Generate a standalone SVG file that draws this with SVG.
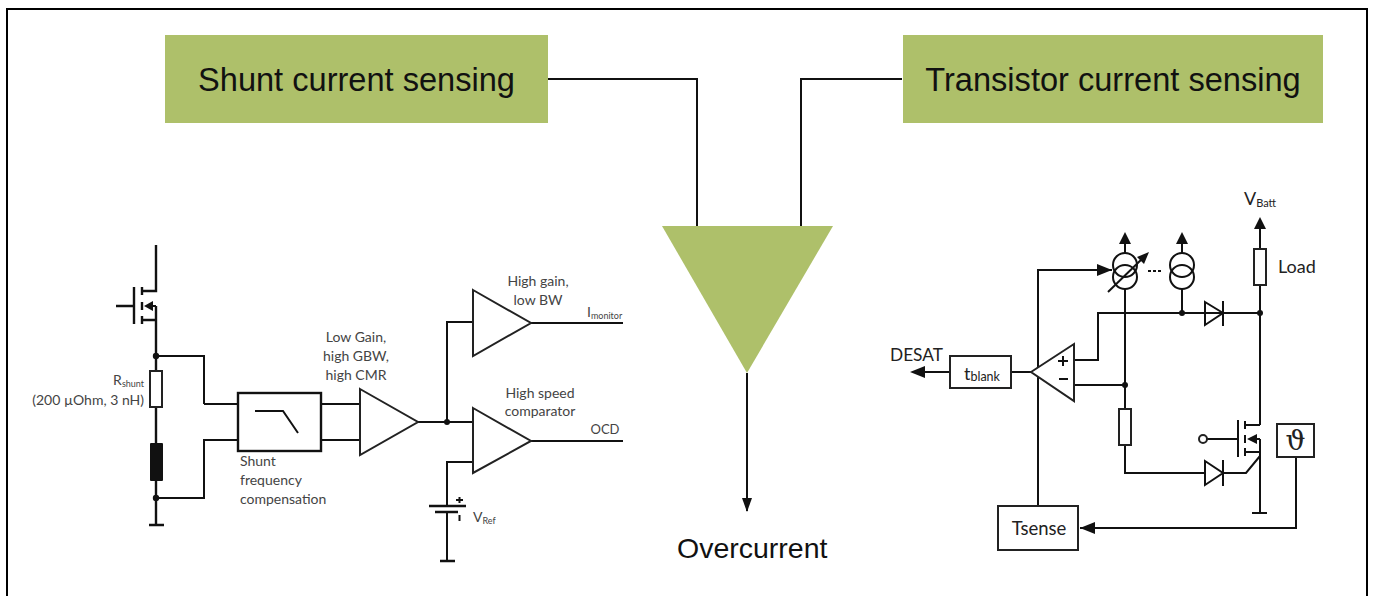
<svg xmlns="http://www.w3.org/2000/svg" width="1373" height="596" viewBox="0 0 1373 596">
<style>
.l{fill:none;stroke:#111;stroke-width:2}
.t{fill:none;stroke:#111;stroke-width:2.4}
.b{fill:#fff;stroke:#222;stroke-width:2}
.g{fill:#aec06a}
.d{fill:#111}
.h{font-family:"Liberation Sans",Arial,sans-serif;fill:#111}
.c{font-family:Lato,"Open Sans",sans-serif;font-size:14px;fill:#444}
.s{font-size:9px}
.m{font-family:Lato,"Open Sans",sans-serif;fill:#222}
</style>
<defs>
<marker id="a" markerWidth="16" markerHeight="12" refX="15" refY="6" orient="auto" markerUnits="userSpaceOnUse"><path d="M0 0L15 6L0 12z" fill="#111"/></marker>
</defs>
<rect x="7" y="9" width="1360" height="600" fill="#fff" stroke="#000" stroke-width="2"/>
<g id="connectors">
<path class="l" d="M548 79H697V226M902 79H801V226"/>
<path class="l" d="M747 373V511"/><path class="d" d="M742 498H752L747 512z"/>
<path class="l" d="M204 404H238M156 356H204V404M156 498H204V440H238"/>
<path class="l" d="M321 404H360M321 440H360M418 422H473M447 422V322H473M531 323H623M531 441H623M473 462H447V506M447 512V561"/>
<path class="l" d="M1011 372H1031M950 372H924M1074 360H1098V313H1260M1074 385H1125"/>
<path class="l" marker-end="url(#a)" d="M1038 506V270H1112"/>
<path class="l" d="M1125 289V409M1125 445V473H1205M1223 473H1246L1260 456M1182 289V313M1260 285V425"/>
<path class="l" marker-end="url(#a)" d="M1296 457V528H1080"/>
<path class="d" d="M910 372L925 366V378z"/>
<circle class="d" cx="447" cy="422" r="3"/>
<circle class="d" cx="1125" cy="385" r="3"/><circle class="d" cx="1182" cy="313" r="3"/><circle class="d" cx="1260" cy="313" r="3"/>
</g>
<g id="shunt-box"><rect class="g" x="165" y="35" width="383" height="88"/><text class="h" x="356.500" y="91" font-size="32.600" text-anchor="middle">Shunt current sensing</text></g>
<g id="transistor-box"><rect class="g" x="903" y="35" width="420" height="88"/><text class="h" x="1113" y="91" font-size="32.600" text-anchor="middle">Transistor current sensing</text></g>
<g id="merge"><path class="g" d="M662 226H833L747 373z"/></g>
<g id="overcurrent"><text class="h" x="677" y="558" font-size="28.500">Overcurrent</text></g>
<g id="shunt-mosfet">
<path class="t" d="M156 245V291H142M142 287V295M134 287V324M116 306H134M142 302V310M142 316V324M142 320H156M156 306V498M156 498V525M149 525H164"/>
<path class="d" d="M144 306L153 301V311z"/>
<path class="l" d="M150 306H156"/>
<circle class="d" cx="156" cy="356" r="3.200"/><circle class="d" cx="156" cy="498" r="3.200"/>
</g>
<g id="rshunt"><rect class="b" x="150" y="371" width="12" height="36"/><text class="c" x="144" y="385" text-anchor="end">R<tspan class="s" dy="2">shunt</tspan></text><text class="c" x="144" y="405" text-anchor="end">(200 µOhm, 3 nH)</text></g>
<g id="lshunt"><rect class="d" x="150" y="443" width="13" height="38" rx="1"/></g>
<g id="filter"><rect class="t" x="238" y="393" width="83" height="58" fill="#fff"/><path class="l" d="M255 411H283L298 433"/><text class="c" x="240" y="466">Shunt</text><text class="c" x="240" y="485">frequency</text><text class="c" x="240" y="504">compensation</text></g>
<g id="amp-low"><path class="b" d="M360 389L418 422L360 455z"/><text class="c" x="356" y="342" text-anchor="middle">Low Gain,</text><text class="c" x="356" y="361" text-anchor="middle">high GBW,</text><text class="c" x="356" y="380" text-anchor="middle">high CMR</text></g>
<g id="amp-monitor"><path class="b" d="M473 290L531 323L473 356z"/><text class="c" x="538" y="286" text-anchor="middle">High gain,</text><text class="c" x="538" y="305" text-anchor="middle">low BW</text><text class="c" x="587" y="317">I<tspan class="s" dy="2">monitor</tspan></text></g>
<g id="amp-ocd"><path class="b" d="M473 408L531 441L473 473z"/><text class="c" x="540" y="398" text-anchor="middle">High speed</text><text class="c" x="540" y="416" text-anchor="middle">comparator</text><text class="c" x="605" y="434" text-anchor="middle" style="font-size:13px">OCD</text></g>
<g id="vref"><path class="t" d="M429 506H466M435 512H458M440 561H455"/><path class="l" d="M456 500H463M459.500 497V503M459.500 515V521"/><text class="c" x="473" y="522">V<tspan class="s" dy="2">Ref</tspan></text></g>
<g id="desat"><text class="m" x="890" y="361" font-size="17.300">DESAT</text></g>
<g id="tblank"><rect class="b" x="950" y="356" width="61" height="32"/><text class="m" x="964" y="380" font-size="18">t<tspan font-size="12.500" dy="1">blank</tspan></text></g>
<g id="comparator"><path class="b" d="M1031 372L1074 344V401z"/><path class="l" d="M1058 361H1068M1063 356V366M1059 379H1068"/></g>
<g id="source-var"><path class="l" d="M1125 253V243"/><path class="d" d="M1125 232L1131 244H1119z"/><circle class="l" cx="1125" cy="265" r="12"/><circle class="l" cx="1125" cy="277" r="12"/><path class="l" d="M1108 292L1145 256"/><path class="d" d="M1149 252L1144 264L1137 257z"/></g>
<g id="source-dots"><path class="l" d="M1148 271H1163" stroke-dasharray="3 2"/></g>
<g id="source-fixed"><path class="l" d="M1182 253V243"/><path class="d" d="M1182 232L1188 244H1176z"/><circle class="l" cx="1182" cy="265" r="12"/><circle class="l" cx="1182" cy="277" r="12"/></g>
<g id="diode-top"><path class="l" d="M1205 302L1223 313L1205 325zM1223 301V326M1182 313H1205"/></g>
<g id="load"><path class="l" d="M1260 249V229"/><path class="d" d="M1260 217L1266 229H1254z"/><rect class="b" x="1254" y="249" width="12" height="36"/><text class="m" x="1278" y="273" font-size="18">Load</text><text class="m" x="1244" y="205" font-size="18">V<tspan font-size="11" dy="2">Batt</tspan></text></g>
<g id="resistor-sense"><rect class="b" x="1119" y="409" width="12" height="36"/></g>
<g id="diode-bottom"><path class="l" d="M1205 461L1223 473L1205 485zM1223 460V486"/></g>
<g id="igbt"><path class="l" d="M1238 420V457M1245 421V429M1245 425H1260M1245 435V443M1245 448V456M1245 452H1260M1260 439V513M1252 513H1267M1207 439H1238M1250 439H1260"/><path class="d" d="M1247 439L1257 434V444z"/><circle class="b" cx="1203" cy="439" r="4"/></g>
<g id="thermal"><rect class="b" x="1277" y="424" width="37" height="33"/><text class="m" x="1295.500" y="450" font-size="28" text-anchor="middle" style="font-family:'DejaVu Serif',serif">ϑ</text></g>
<g id="tsense"><rect class="b" x="998" y="506" width="80" height="44"/><text class="m" x="1039" y="535" font-size="18.500" text-anchor="middle">Tsense</text></g>
</svg>
